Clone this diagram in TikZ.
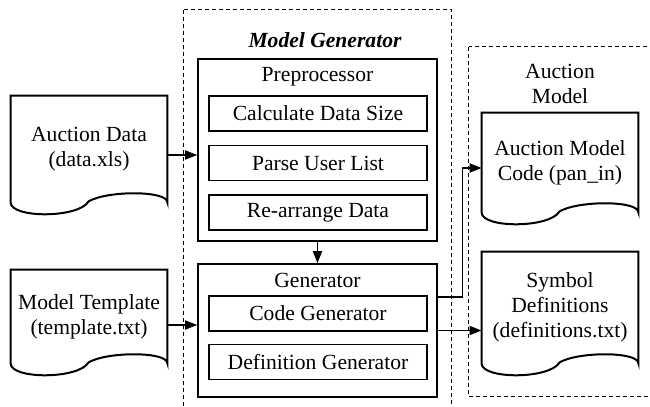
\documentclass[tikz,border=0pt]{standalone}
\usepackage{fontspec}
\setmainfont{Liberation Serif}
\usetikzlibrary{positioning, arrows.meta, calc}

% document symbol: box with a wavy bottom edge
\newcommand{\drawdoc}[1]{%
  \draw[docline] (#1.south west) -- (#1.north west) -- (#1.north east) -- (#1.south east)
    .. controls ($(#1.south east)+(0,-12)$) and ($(#1.south east)+(-60,-12)$) .. ($(#1.south west)+(78,-1)$)
    .. controls ($(#1.south west)+(68,16)$) and ($(#1.south west)+(0,16)$) .. cycle;}

\begin{document}
\begin{tikzpicture}[
    x=0.5pt, y=-0.5pt,
    font=\fontsize{10.8}{12.5}\selectfont,
    >={Triangle[length=6pt,width=4.5pt]},
    doc/.style={minimum width=78pt, inner sep=0pt, align=center},
    docline/.style={draw, line width=1pt},
    block/.style={draw, line width=0.75pt, minimum width=119.5pt, inner sep=0pt},
    task/.style={draw, line width=0.75pt, minimum width=109pt, minimum height=17.5pt, inner sep=0pt},
    group/.style={draw, line width=0.5pt, dash pattern=on 2pt off 1.5pt},
    flow/.style={->, line width=0.75pt},
  ]
  \useasboundingbox (0,0) rectangle (650,407);

  % Dashed groups
  \draw[group] (184,10) rectangle (452,430);
  \draw[group] (469,47) rectangle (670,397);
  \node[font=\fontsize{10.8}{12.5}\selectfont\bfseries\itshape] (mgtitle) at (325,40) {Model Generator};
  \node[align=center] (amtitle) at (560,84) {Auction\\Model};

  % Preprocessor
  \node[block, minimum height=91pt] (pre) at (317.5,150) {};
  \node (pretitle) at (317.5,77) {Preprocessor};
  \node[task] (size) at (318,113.5) {Calculate Data Size};
  \node[task, below=6.5pt of size] (users) {Parse User List};
  \node[task, below=6.5pt of users] (arrange) {Re-arrange Data};

  % Generator
  \node[block, minimum height=66.5pt] (gen) at (317.5,330.5) {};
  \node (gentitle) at (317.5,280) {Generator};
  \node[task] (codegen) at (318,313.5) {Code Generator};
  \node[task, below=6pt of codegen] (defgen) {Definition Generator};

  % Documents
  \node[doc, minimum height=53pt] (data) at (89,149) {Auction Data\\(data.xls)};
  \node[doc, minimum height=46.5pt] (template) at (89,316.5) {Model Template\\(template.txt)};
  \node[doc, minimum height=49.5pt] (code) at (560,162.5) {Auction Model\\Code (pan\_in)};
  \node[doc, minimum height=55.5pt] (defs) at (560,307.5) {Symbol\\Definitions\\(definitions.txt)};
  \drawdoc{data}
  \drawdoc{template}
  \drawdoc{code}
  \drawdoc{defs}

  % Flows
  \draw[flow] ($(data.east)+(0,6)$) -- ($(pre.west |- data.east)+(0,6)$);
  \draw[flow] ($(template.east)+(0,8.5)$) -- ($(gen.west |- template.east)+(0,8.5)$);
  \draw[flow] (pre.south) -- (gen.north);
  \draw[flow] (gen.east) -- (gen.east -| defs.west);
  \draw[flow] ($(gen.east)+(0,-33.5)$) -- ++(25,0) |- ($(code.west)+(0,5.5)$);
\end{tikzpicture}
\end{document}
